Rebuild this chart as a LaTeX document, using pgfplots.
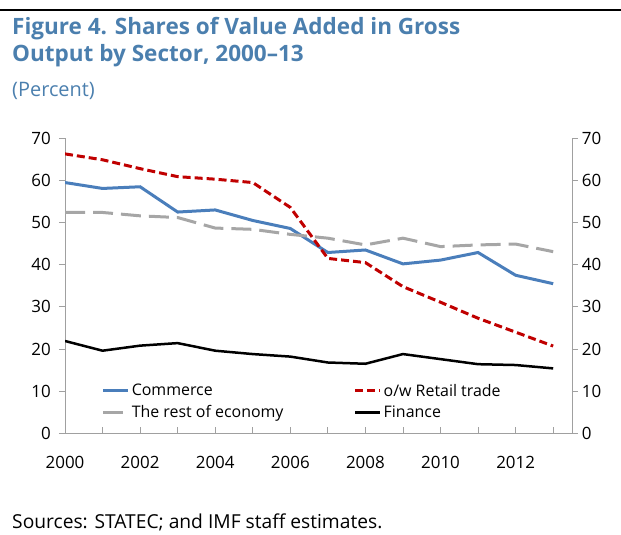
\documentclass[border=0pt]{standalone}
\usepackage{fontspec}
\setmainfont{Open Sans}
\usepackage{pgfplots}
\pgfplotsset{compat=1.18}
\definecolor{titleblue}{RGB}{75,127,174}
\definecolor{commerce}{RGB}{74,126,187}
\definecolor{retail}{RGB}{192,0,0}
\definecolor{rest}{RGB}{166,166,166}
\definecolor{axisgray}{RGB}{160,160,160}
\begin{document}
\begin{tikzpicture}
\useasboundingbox (0bp,0bp) rectangle (621bp,535bp);
\draw[line width=2.5bp] (0bp,525bp) -- (621bp,525bp);
\node[anchor=base west, inner sep=0pt, text=titleblue, font=\fontsize{22.6}{27}\selectfont\bfseries] at (12bp,500bp) {Figure 4. Shares of Value Added in Gross};
\node[anchor=base west, inner sep=0pt, text=titleblue, font=\fontsize{22.6}{27}\selectfont\bfseries] at (12bp,473.3bp) {Output by Sector, 2000–13};
\node[anchor=base west, inner sep=0pt, text=titleblue, font=\fontsize{20}{24}\selectfont] at (12bp,438bp) {(Percent)};
\node[anchor=base west, inner sep=0pt, font=\fontsize{19.3}{23}\selectfont] at (12bp,6.7bp) {Sources: STATEC; and IMF staff estimates.};
\begin{axis}[
  at={(65bp,101.7bp)}, anchor=south west,
  width=507.7bp, height=295bp, scale only axis,
  xmin=2000, xmax=2013.52, ymin=0, ymax=70,
  axis x line*=bottom, axis y line*=left,
  axis line style={draw=axisgray, line width=0.9bp, -},
  tick align=inside, major tick length=6bp, minor tick length=6bp,
  tick style={draw=axisgray, line width=0.9bp},
  ytick style={xshift=-6bp},
  xtick={2000,2002,...,2012}, minor xtick={2001,2003,...,2013},
  ytick={0,10,...,70},
  /pgf/number format/assume math mode=true,
  x tick label style={/pgf/number format/1000 sep=, font=\fontsize{17}{20}\selectfont, anchor=base, inner sep=0pt, yshift=-35bp},
  y tick label style={font=\fontsize{17}{20}\selectfont, anchor=east, inner sep=0pt, xshift=-14bp},
  legend style={at={(0.072,0.1740)}, anchor=north west, draw=none, fill=none, legend columns=2,
    font=\fontsize{16}{19}\selectfont, inner sep=0pt, row sep=4bp,
    /tikz/every even column/.style={column sep=0pt}},
  legend cell align=left,
  legend image code/.code={\draw[#1] (0bp,0bp) -- (25bp,0bp);},
]
\addplot[commerce, line width=3bp] coordinates {
(2000,59.5) (2001,58.1) (2002,58.5) (2003,52.5) (2004,53.0) (2005,50.5) (2006,48.6)
(2007,42.9) (2008,43.5) (2009,40.2) (2010,41.1) (2011,42.9) (2012,37.5) (2013,35.5)};
\addlegendentry{\makebox[220bp][l]{Commerce}}
\addplot[retail, line width=3bp, dash pattern=on 8bp off 4bp] coordinates {
(2000,66.3) (2001,64.9) (2002,62.8) (2003,60.9) (2004,60.3) (2005,59.5) (2006,53.6)
(2007,41.5) (2008,40.5) (2009,34.8) (2010,31.1) (2011,27.3) (2012,24.0) (2013,20.7)};
\addlegendentry{o/w Retail trade}
\addplot[rest, line width=3bp, dash pattern=on 20bp off 8bp] coordinates {
(2000,52.4) (2001,52.4) (2002,51.6) (2003,51.2) (2004,48.7) (2005,48.4) (2006,47.2)
(2007,46.3) (2008,44.7) (2009,46.3) (2010,44.3) (2011,44.7) (2012,44.9) (2013,43.1)};
\addlegendentry{\makebox[220bp][l]{The rest of economy}}
\addplot[black, line width=2.5bp] coordinates {
(2000,21.9) (2001,19.6) (2002,20.8) (2003,21.4) (2004,19.6) (2005,18.8) (2006,18.2)
(2007,16.8) (2008,16.5) (2009,18.8) (2010,17.6) (2011,16.4) (2012,16.2) (2013,15.4)};
\addlegendentry{Finance}
\end{axis}
\begin{axis}[
  at={(65bp,101.7bp)}, anchor=south west,
  width=507.7bp, height=295bp, scale only axis,
  xmin=2000, xmax=2013.52, ymin=0, ymax=70,
  axis x line=none, axis y line*=right,
  axis line style={draw=axisgray, line width=0.9bp, -},
  tick align=inside, major tick length=5bp,
  tick style={draw=axisgray, line width=0.9bp},
  ytick style={xshift=5bp},
  ytick={0,10,...,70},
  /pgf/number format/assume math mode=true,
  y tick label style={font=\fontsize{17}{20}\selectfont, anchor=west, inner sep=0pt, xshift=9bp},
]
\end{axis}
\end{tikzpicture}
\end{document}
